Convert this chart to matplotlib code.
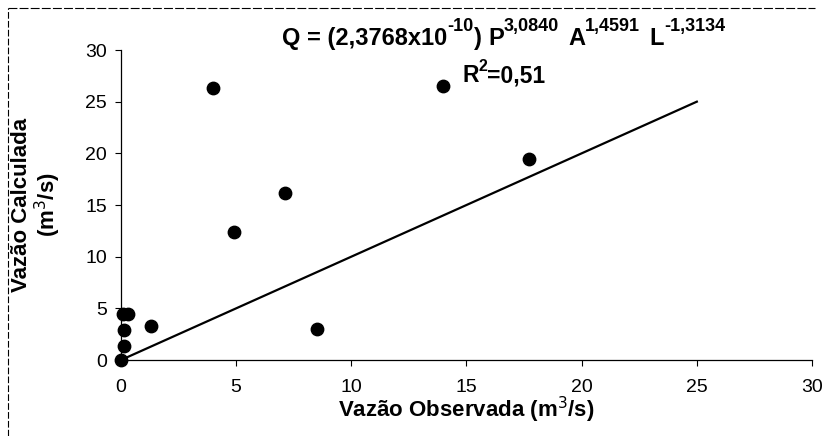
import matplotlib
matplotlib.use("Agg")
import matplotlib.pyplot as plt
from matplotlib.lines import Line2D
from matplotlib.transforms import IdentityTransform

plt.rcParams['font.family'] = ['Liberation Sans', 'DejaVu Sans']

# Observed vs. calculated discharge (m3/s)
observed = [0.0, 0.15, 0.15, 0.1, 0.3, 1.3, 4.9, 4.0, 7.1, 8.5, 14.0, 17.7]
calculated = [0.0, 1.4, 2.9, 4.5, 4.5, 3.3, 12.4, 26.3, 16.2, 3.0, 26.5, 19.5]
line_x = [0, 25]
line_y = [0, 25]
ticks = [0, 5, 10, 15, 20, 25, 30]

W, H = 825, 436
fig = plt.figure(figsize=(W / 100, H / 100), dpi=100)
ax = fig.add_axes([121 / W, 1 - 360 / H, 691 / W, 310 / H])

ax.plot(line_x, line_y, color='black', lw=1.6, zorder=2)
ax.scatter(observed, calculated, s=80, color='black', zorder=3, clip_on=False)

ax.set_xlim(0, 30)
ax.set_ylim(0, 30)
ax.set_xticks(ticks)
ax.set_yticks(ticks)
ax.tick_params(axis='both', labelsize=14, direction='out', length=4, width=0.8)
ax.tick_params(axis='x', pad=10)
ax.tick_params(axis='y', pad=6)
for s in ('top', 'right'):
    ax.spines[s].set_visible(False)
for s in ('left', 'bottom'):
    ax.spines[s].set_linewidth(0.9)

fig.text(466 / W, 1 - 410 / H, 'Vazão Observada (m$^{3}$/s)', ha='center', va='center',
         fontsize=16, fontweight='bold')
fig.text(22 / W, 1 - 205 / H, 'Vazão Calculada', rotation=90, ha='center', va='center',
         fontsize=16, fontweight='bold')
fig.text(48 / W, 1 - 205 / H, '(m$^{3}$/s)', rotation=90, ha='center', va='center',
         fontsize=16, fontweight='bold')


def rich_text(x, baseline, pieces):
    """Lay out bold text runs left to right; each run is (text, size, raise_px, gap_px)."""
    renderer = fig.canvas.get_renderer()
    for txt, size, rise, gap in pieces:
        x += gap
        t = fig.text(x, H - baseline + rise, txt, transform=IdentityTransform(),
                     ha='left', va='baseline', fontsize=size, fontweight='bold')
        x = t.get_window_extent(renderer).x1


BASE, SUP, RISE = 17, 13, 14
rich_text(282, 45, [
    ('Q = (2,3768x10', BASE, 0, 0),
    ('-10', SUP, RISE, 0),
    (')', BASE, 0, 0),
    ('P', BASE, 0, 7),
    ('3,0840', SUP, RISE, 0),
    ('A', BASE, 0, 9),
    ('1,4591', SUP, RISE, 0),
    ('L', BASE, 0, 9),
    ('-1,3134', SUP, RISE, 0),
])
rich_text(462, 82, [
    ('R', 16.5, 0, 0),
    ('2', 11.5, 11, 0),
    ('=0,51', 16.5, 0, 0),
])

# Thin frame around the chart area
fig.add_artist(Line2D([8 / W, 8 / W], [0, 1 - 8 / H], transform=fig.transFigure,
                      color='black', lw=0.8, ls=(0, (6, 2))))
fig.add_artist(Line2D([8 / W, 815 / W], [1 - 8 / H, 1 - 8 / H], transform=fig.transFigure,
                      color='black', lw=0.8, ls=(0, (8, 2))))

fig.savefig('out.png', dpi=100)
